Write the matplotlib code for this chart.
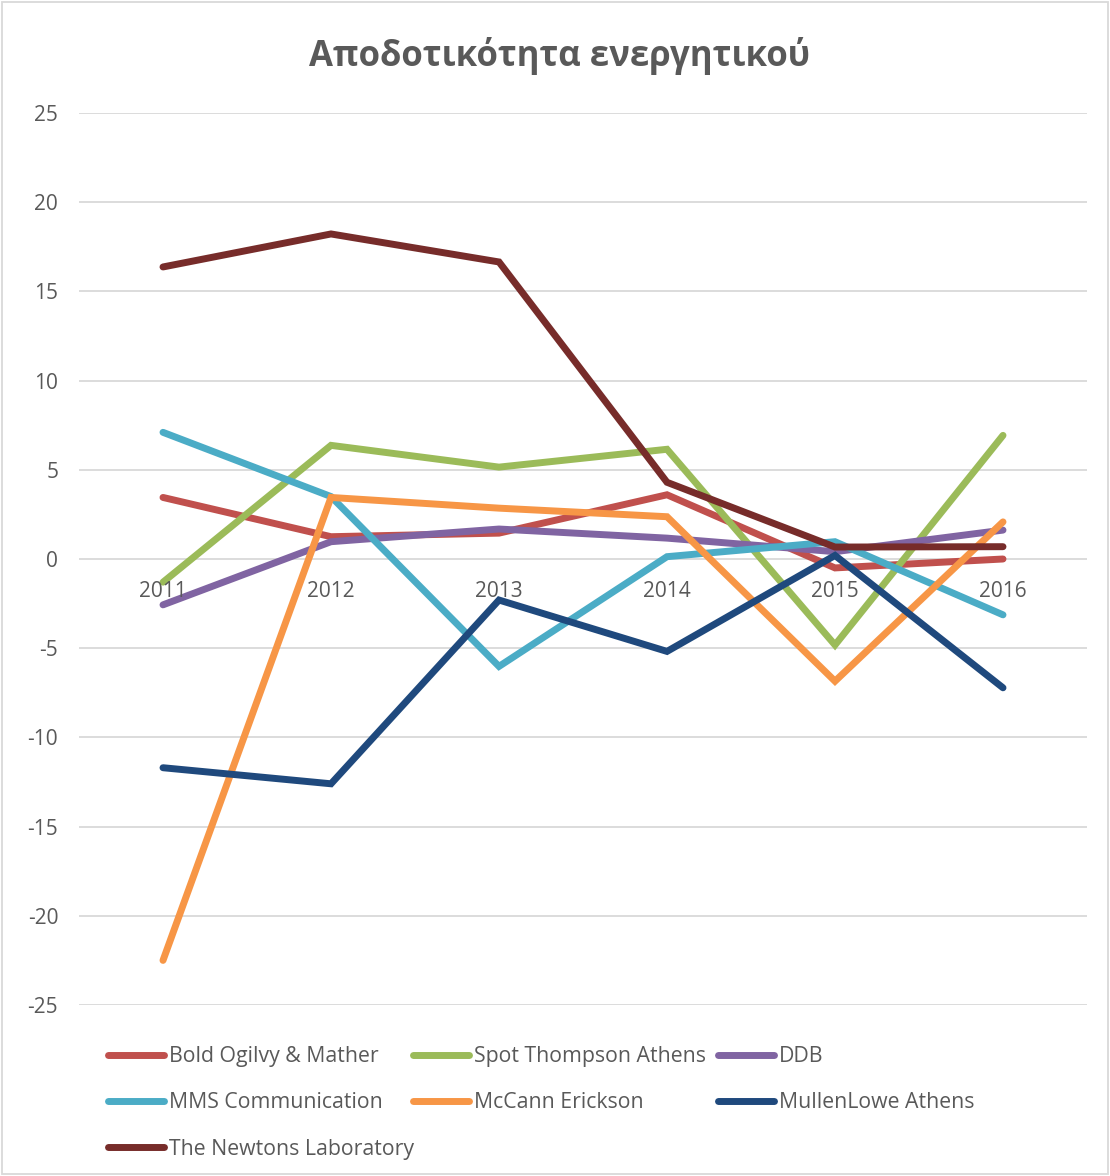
import matplotlib.pyplot as plt
import numpy as np
from matplotlib.patches import Rectangle

plt.rcParams['font.family'] = ['Open Sans', 'DejaVu Sans']

years = ['2011', '2012', '2013', '2014', '2015', '2016']

bold_ogilvy = [3.45, 1.25, 1.45, 3.6, -0.5, 0.0]
spot_thompson = [-1.3, 6.37, 5.15, 6.15, -4.82, 6.93]
ddb = [-2.57, 0.97, 1.68, 1.17, 0.41, 1.62]
mms = [7.1, 3.5, -6.02, 0.13, 0.97, -3.13]
mccann = [-22.5, 3.45, 2.85, 2.37, -6.85, 2.08]
mullenlowe = [-11.7, -12.6, -2.3, -5.18, 0.2, -7.22]
newtons = [16.37, 18.22, 16.65, 4.3, 0.67, 0.69]

names = ['Bold Ogilvy & Mather', 'Spot Thompson Athens', 'DDB',
         'MMS Communication', 'McCann Erickson', 'MullenLowe Athens',
         'The Newtons Laboratory']
series = [bold_ogilvy, spot_thompson, ddb, mms, mccann, mullenlowe, newtons]
colors = ['#C0504D', '#9BBB59', '#8064A2', '#4BACC6', '#F79646', '#1F497D', '#772C2A']

fig = plt.figure(figsize=(11.1, 11.76), dpi=100)
ax = fig.add_axes([79 / 1110, 1 - 1005 / 1176, 1008 / 1110, 892 / 1176])

x = np.arange(len(years))
lines = []
for vals, name, c in zip(series, names, colors):
    ln, = ax.plot(x, vals, color=c, lw=5, solid_capstyle='round',
                  solid_joinstyle='miter', label=name)
    lines.append(ln)

ax.set_xlim(-0.5, len(years) - 0.5)
ax.set_ylim(-25, 25)
ax.set_yticks(np.arange(-25, 26, 5))
ax.set_yticklabels([str(v) for v in range(-25, 26, 5)])
ax.yaxis.grid(True, color='#D9D9D9', lw=1.3)
ax.set_axisbelow(True)
for s in ax.spines.values():
    s.set_visible(False)
ax.tick_params(axis='y', length=0, labelsize=15, labelcolor='#595959', pad=15)
ax.set_xticks([])
for xi, yr in zip(x, years):
    ax.text(xi, -1.8, yr, ha='center', va='center', fontsize=15, color='#595959')

fig.text(560 / 1110, 1 - 56 / 1176, 'Αποδοτικότητα ενεργητικού', ha='center', va='center',
         fontsize=25, fontweight='bold', color='#595959')

# legend: three columns, filled row by row like Excel
col_x = [108, 413, 718]
for ci in range(3):
    idx = list(range(ci, len(lines), 3))
    leg = fig.legend([lines[i] for i in idx], [names[i] for i in idx],
                     loc='upper left', bbox_to_anchor=(col_x[ci] / 1110, 1 - 1046 / 1176),
                     frameon=False, fontsize=15.3, handlelength=2.65, handletextpad=0.2,
                     labelspacing=1.19, borderaxespad=0, borderpad=0)
    for t in leg.get_texts():
        t.set_color('#595959')

fig.patches.append(Rectangle((2 / 1110, 2 / 1176), 1106 / 1110, 1172 / 1176,
                             transform=fig.transFigure, fill=False,
                             edgecolor='#D9D9D9', lw=1.3))

fig.savefig('out.png', dpi=100, facecolor='white')
